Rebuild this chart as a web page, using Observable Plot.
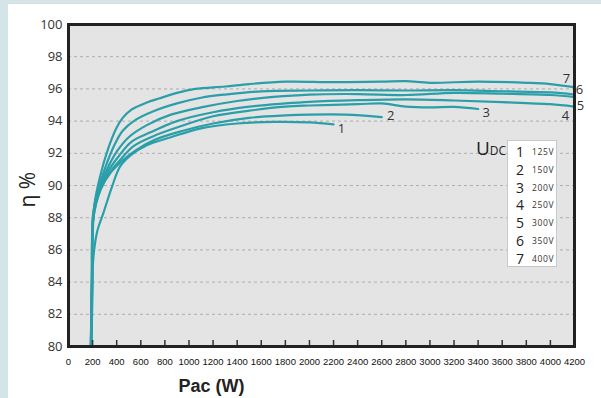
<!DOCTYPE html>
<html><head><meta charset="utf-8">
<script src="https://cdn.jsdelivr.net/npm/d3@7"></script>
<script src="https://cdn.jsdelivr.net/npm/@observablehq/plot@0.6"></script>
<style>
html,body{margin:0;padding:0;}
body{width:601px;height:398px;background:#d4e5ea;position:relative;overflow:hidden;font-family:"Open Sans",sans-serif;}
#panel{position:absolute;left:8px;top:3px;right:0;bottom:0;background:#fff;border-top:1px solid #d8dcde;}
#chart{position:absolute;left:0;top:0;}
#legend{position:absolute;left:507px;top:140px;width:50px;height:127px;background:#fff;border:1px solid #c8c8c8;box-sizing:border-box;}
.row{position:absolute;left:0;width:48px;height:14px;display:flex;align-items:center;}
.num{width:24px;text-align:center;font-size:14px;color:#222;line-height:14px;}
.volt{font-size:8.5px;color:#333;letter-spacing:0.6px;line-height:10px;}
#udc{position:absolute;left:476px;top:138px;color:#222;line-height:20px;}
#udc .u{font-size:19px;}
#udc .dc{font-size:12px;}
</style></head>
<body>
<div id="panel"></div>
<div id="chart"></div>
<div id="udc"><span class="u">U</span><span class="dc">DC</span></div>
<div id="legend"></div>
<script>
// ---- data ----
const curveIds = ["1","2","3","4","5","6","7"];
const voltages = ["125V","150V","200V","250V","300V","350V","400V"];
const xTicks = d3.range(0, 4201, 200);
const yTicks = [80,82,84,86,88,90,92,94,96,98,100];
const gridTicks = [82,84,86,88,90,92,94,96,98];

const curve1 = [[190,80],[198,83],[205,85.4],[240,87.2],[290,88.3],[360,89.9],[430,91.2],[520,91.9],[650,92.5],[850,93.0],[1100,93.55],[1400,93.85],[1700,93.95],[2000,93.92],[2200,93.8]];
const curve2 = [[189,80],[197,84],[207,88],[270,89.8],[350,90.8],[440,91.5],[560,92.2],[720,92.85],[950,93.4],[1200,93.85],[1500,94.2],[1800,94.35],[2000,94.4],[2300,94.4],[2600,94.25]];
const curve3 = [[188,80],[196,84],[206,88],[260,89.7],[340,90.8],[430,91.6],[540,92.45],[700,93.05],[900,93.6],[1200,94.3],[1500,94.65],[1800,94.9],[2000,94.97],[2400,95.05],[2600,95.1],[2800,94.9],[3000,94.85],[3200,94.88],[3400,94.75]];
const curve4 = [[187,80],[195,84],[205,88],[250,89.6],[330,90.9],[420,91.85],[520,92.7],[680,93.3],[900,94.0],[1200,94.55],[1500,94.9],[1800,95.1],[2000,95.2],[2400,95.3],[2800,95.35],[3200,95.28],[3600,95.18],[4000,95.05],[4200,94.9]];
const curve5 = [[186,80],[194,84],[204,88.2],[240,89.5],[320,91.0],[400,92.1],[500,93.0],[650,93.75],[850,94.4],[1100,94.85],[1400,95.25],[1700,95.5],[2000,95.65],[2400,95.68],[2800,95.62],[3200,95.75],[3600,95.7],[4000,95.62],[4200,95.5]];
const curve6 = [[185,80],[193,84],[203,88],[230,89.3],[300,91.0],[380,92.5],[450,93.4],[550,94.05],[700,94.6],[900,95.1],[1100,95.45],[1300,95.65],[1600,95.85],[2000,95.9],[2400,95.92],[2800,95.9],[3200,95.92],[3600,95.85],[4000,95.78],[4200,95.65]];
const curve7 = [[185,80],[192,83],[200,86.5],[215,88.8],[260,90.5],[330,92.3],[400,93.6],[450,94.2],[520,94.7],[650,95.15],[750,95.4],[900,95.75],[1050,96.0],[1300,96.15],[1500,96.3],[1800,96.45],[2200,96.42],[2600,96.45],[2800,96.48],[3000,96.38],[3400,96.45],[3800,96.38],[4000,96.3],[4200,96.1]];

const curves = [curve1,curve2,curve3,curve4,curve5,curve6,curve7];
const rows = curves.flatMap((c,i)=>c.map(([p,e])=>({p,e,s:curveIds[i]})));
const ends = curves.map((c,i)=>({p:c[c.length-1][0], e:c[c.length-1][1], s:curveIds[i]}));

const labelOffsets = [[8,5],[9,-1],[8,4],[-9,9],[6,9],[5,-5],[-8,-8]];
const teal = "#2a9fa9";

const chart = Plot.plot({
  width: 601, height: 398,
  marginLeft: 68, marginTop: 24, marginRight: 27, marginBottom: 52,
  style: {background: "transparent", overflow: "visible"},
  x: {domain: [0, 4200]},
  y: {domain: [80, 100]},
  marks: [
    Plot.frame({fill: "#e4e4e4"}),
    Plot.gridY(gridTicks, {stroke: "#adadad", strokeOpacity: 1, strokeDasharray: "3,3"}),
    Plot.line(rows, {x: "p", y: "e", z: "s", stroke: teal, strokeWidth: 2.2, curve: "catmull-rom", clip: true}),
    ...ends.map((d,i)=>Plot.text([d], {x:"p", y:"e", text:"s", dx: labelOffsets[i][0], dy: labelOffsets[i][1], fontSize: 13, fill: "#333", fontFamily: "Open Sans"})),
    Plot.tickX(xTicks.slice(1,-1), {x: d=>d, insetTop: 316, stroke: "#333", strokeWidth: 1.5}),
    Plot.frame({stroke: "#222", strokeWidth: 3}),
    Plot.axisY(yTicks, {tickSize: 0, tickPadding: 6, fontSize: 13, fontFamily: "Open Sans", fill: "#333", label: null}),
    Plot.axisX(xTicks, {tickSize: 0, tickPadding: 12, fontSize: 9.5, fontFamily: "Liberation Sans, Arial", fill: "#111", label: null, tickFormat: d=>String(d)}),
    Plot.text(["Pac (W)"], {frameAnchor: "bottom-left", dx: 143, dy: 45, fontSize: 18, fontWeight: "bold", fontFamily: "Liberation Sans, Arial", fill: "#222", textAnchor: "middle"}),
    Plot.text(["η %"], {frameAnchor: "left", dx: -40, dy: 22, rotate: -90, fontSize: 21, fontFamily: "Open Sans", fill: "#222"})
  ]
});
document.getElementById("chart").appendChild(chart);

const leg = document.getElementById("legend");
curveIds.forEach((id,i)=>{
  const r = document.createElement("div");
  r.className = "row";
  r.style.top = (4 + i*17.8) + "px";
  r.innerHTML = `<span class="num">${id}</span><span class="volt">${voltages[i]}</span>`;
  leg.appendChild(r);
});
</script>
</body></html>
